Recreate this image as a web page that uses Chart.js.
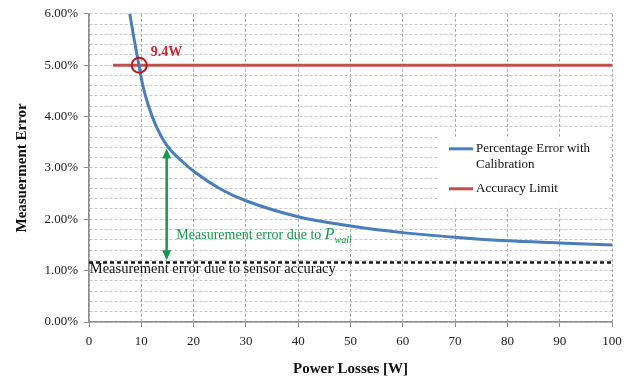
<!DOCTYPE html>
<html>
<head>
<meta charset="utf-8">
<script src="https://cdn.jsdelivr.net/npm/chart.js@4/dist/chart.umd.min.js"></script>
<style>
html, body { margin: 0; padding: 0; background: #fff; }
#wrap { width: 633px; height: 385px; }
</style>
</head>
<body>
<div id="wrap"><canvas id="error-chart" width="633" height="385"></canvas></div>
<script>
// curve (W, %)
const powerLosses = [7.8, 8.6, 9.55, 10.3, 11.4, 12.9, 14.8, 18.1, 20.2, 25.3, 30, 40, 50, 60, 70, 80, 90, 100];
const percentageError = [6.0, 5.52, 5.0, 4.6, 4.2, 3.8, 3.45, 3.10, 2.92, 2.58, 2.36, 2.05, 1.87, 1.74, 1.65, 1.58, 1.54, 1.50];

const accuracyLimitX = [4.6, 100];
const accuracyLimitY = [5.0, 5.0];

const sensorAccuracyX = [0, 100];
const sensorAccuracyY = [1.16, 1.16];

// axis ranges: [min, max, step]
const xRange = [0, 100, 10];
const yRange = [0, 6, 0.2];

// annotations (data units)
const crossingPoint = [9.6, 5.0];
const crossingLabel = '9.4W';
const crossingLabelPos = [11.8, 5.24];
const wallArrowX = 14.85;
const wallArrowY = [1.2, 3.38];
const wallTextPos = [16.7, 1.72];
const sensorTextPos = [0.15, 1.03];

const SERIF = "'Liberation Serif', 'Times New Roman', serif";
const BLUE = '#4a7ebb';
const RED = '#c0504d';
const GREEN = '#13994b';

const toPoints = (xs, ys) => xs.map((v, i) => ({x: v, y: ys[i]}));
const isMajor = v => Math.abs(v - Math.round(v)) < 1e-6;

const annotationPlugin = {
    id: 'annotations',
    afterDatasetsDraw(chart) {
        const {ctx, scales: {x, y}} = chart;
        ctx.save();

        // circle on crossing
        const cx = x.getPixelForValue(crossingPoint[0]);
        const cy = y.getPixelForValue(crossingPoint[1]);
        ctx.strokeStyle = '#c0141e';
        ctx.lineWidth = 2;
        ctx.beginPath();
        ctx.arc(cx, cy, 7.5, 0, Math.PI * 2);
        ctx.stroke();

        ctx.font = 'bold 14px ' + SERIF;
        ctx.fillStyle = '#c42b35';
        ctx.textAlign = 'left';
        ctx.textBaseline = 'middle';
        ctx.fillText(crossingLabel, x.getPixelForValue(crossingLabelPos[0]), y.getPixelForValue(crossingLabelPos[1]));

        // double arrow
        const ax = x.getPixelForValue(wallArrowX);
        const yBot = y.getPixelForValue(wallArrowY[0]);
        const yTop = y.getPixelForValue(wallArrowY[1]);
        ctx.strokeStyle = GREEN;
        ctx.fillStyle = GREEN;
        ctx.lineWidth = 2.5;
        ctx.beginPath();
        ctx.moveTo(ax, yBot - 8);
        ctx.lineTo(ax, yTop + 8);
        ctx.stroke();
        ctx.beginPath();
        ctx.moveTo(ax, yTop);
        ctx.lineTo(ax - 4.5, yTop + 10);
        ctx.lineTo(ax + 4.5, yTop + 10);
        ctx.closePath();
        ctx.fill();
        ctx.beginPath();
        ctx.moveTo(ax, yBot);
        ctx.lineTo(ax - 4.5, yBot - 10);
        ctx.lineTo(ax + 4.5, yBot - 10);
        ctx.closePath();
        ctx.fill();

        // green text with P_wall
        let tx = x.getPixelForValue(wallTextPos[0]);
        const ty = y.getPixelForValue(wallTextPos[1]);
        ctx.textBaseline = 'alphabetic';
        ctx.font = '14px ' + SERIF;
        const part = 'Measurement error due to ';
        ctx.fillText(part, tx, ty + 5);
        tx += ctx.measureText(part).width;
        ctx.font = 'italic 16px ' + SERIF;
        ctx.fillText('P', tx, ty + 5);
        tx += ctx.measureText('P').width;
        ctx.font = 'italic 10px ' + SERIF;
        ctx.fillText('wall', tx, ty + 9);

        // black text
        ctx.fillStyle = '#111';
        ctx.font = '14.5px ' + SERIF;
        ctx.textBaseline = 'middle';
        ctx.fillText('Measurement error due to sensor accuracy', x.getPixelForValue(sensorTextPos[0]), y.getPixelForValue(sensorTextPos[1]));

        ctx.restore();
    },
    afterDraw(chart) {
        const {ctx, chartArea} = chart;
        const left = chartArea.right - 175;
        const top = chartArea.top + 123;
        ctx.save();
        ctx.fillStyle = '#fff';
        ctx.fillRect(left, top, 171, 70);

        const items = chart.data.datasets.filter(d => d.inLegend);
        let rowY = top + 12;
        ctx.font = '13px ' + SERIF;
        ctx.textAlign = 'left';
        ctx.textBaseline = 'middle';
        items.forEach(d => {
            ctx.strokeStyle = d.borderColor;
            ctx.lineWidth = 3;
            ctx.beginPath();
            ctx.moveTo(left + 12, rowY);
            ctx.lineTo(left + 36, rowY);
            ctx.stroke();
            ctx.fillStyle = '#111';
            d.label.split('\n').forEach((line, i) => {
                ctx.fillText(line, left + 39, rowY + i * 16);
            });
            rowY += d.label.split('\n').length * 16 + 8;
        });
        ctx.restore();
    }
};

const canvas = document.getElementById('error-chart');

new Chart(canvas, {
    type: 'line',
    data: {
        datasets: [
            {
                label: 'Percentage Error with\nCalibration',
                data: toPoints(powerLosses, percentageError),
                borderColor: BLUE,
                backgroundColor: BLUE,
                borderWidth: 3,
                cubicInterpolationMode: 'monotone',
                inLegend: true
            },
            {
                label: 'Accuracy Limit',
                data: toPoints(accuracyLimitX, accuracyLimitY),
                borderColor: RED,
                backgroundColor: RED,
                borderWidth: 3,
                inLegend: true
            },
            {
                label: 'Sensor accuracy',
                data: toPoints(sensorAccuracyX, sensorAccuracyY),
                borderColor: '#1a1a1a',
                borderWidth: 2.5,
                borderDash: [4, 3],
                inLegend: false
            }
        ]
    },
    options: {
        responsive: false,
        animation: false,
        devicePixelRatio: 1,
        layout: { padding: { top: 12, right: 21, left: 0, bottom: 0 } },
        elements: { point: { radius: 0 } },
        plugins: {
            legend: { display: false },
            tooltip: { enabled: false }
        },
        scales: {
            x: {
                type: 'linear',
                min: xRange[0],
                max: xRange[1],
                afterFit: scale => { scale.height = 63; },
                ticks: {
                    stepSize: xRange[2],
                    color: '#222',
                    font: { family: SERIF, size: 13 },
                    padding: 7,
                    maxRotation: 0
                },
                grid: {
                    color: '#a9a9a9',
                    tickColor: '#8c8c8c',
                    tickLength: 5
                },
                border: { color: '#8c8c8c', width: 1.5, dash: [3, 2] },
                title: {
                    display: true,
                    text: 'Power Losses [W]',
                    color: '#111',
                    font: { family: SERIF, size: 15, weight: 'bold' },
                    padding: { top: 0, bottom: 7 }
                }
            },
            y: {
                min: yRange[0],
                max: yRange[1],
                afterFit: scale => { scale.width = 89; },
                ticks: {
                    stepSize: yRange[2],
                    autoSkip: false,
                    color: '#222',
                    font: { family: SERIF, size: 13 },
                    padding: 6,
                    callback: v => isMajor(v) ? Math.round(v).toFixed(2) + '%' : ''
                },
                grid: {
                    color: '#c6c6c6',
                    tickColor: c => isMajor(c.tick.value) ? '#8c8c8c' : 'rgba(0,0,0,0)',
                    tickLength: 5
                },
                border: { color: '#8c8c8c', width: 1.5, dash: [3, 2] },
                title: {
                    display: true,
                    text: 'Measuerment Error',
                    color: '#111',
                    font: { family: SERIF, size: 15, weight: 'bold' },
                    padding: { top: 13, bottom: 0 }
                }
            }
        }
    },
    plugins: [annotationPlugin]
});
</script>
</body>
</html>
